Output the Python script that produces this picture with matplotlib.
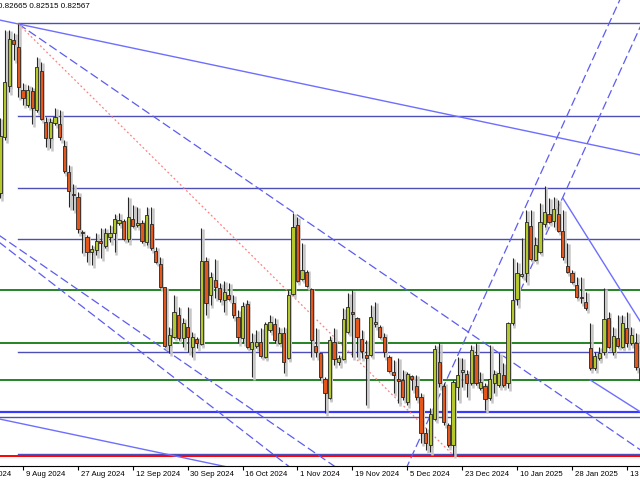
import matplotlib
matplotlib.use("Agg")
import matplotlib.pyplot as plt
import matplotlib.transforms as mtransforms

# daily candles, bar index 0 = 9 Aug 2024
bar_index = list(range(-5, 136))
opens = [0.8457, 0.8513, 0.8564, 0.8610, 0.8603, 0.8560, 0.8545, 0.8559, 0.8540, 0.8579,
         0.8528, 0.8512, 0.8527, 0.8526, 0.8504, 0.8478, 0.8456, 0.8453, 0.8418, 0.8413,
         0.8398, 0.8400, 0.8409, 0.8404, 0.8413, 0.8417, 0.8427, 0.8429, 0.8411, 0.8431,
         0.8425, 0.8427, 0.8408, 0.8426, 0.8399, 0.8386, 0.8363, 0.8305, 0.8313, 0.8335,
         0.8312, 0.8323, 0.8303, 0.8311, 0.8306, 0.8389, 0.8355, 0.8370, 0.8362, 0.8350,
         0.8355, 0.8347, 0.8333, 0.8312, 0.8346, 0.8301, 0.8304, 0.8308, 0.8293, 0.8320,
         0.8326, 0.8307, 0.8317, 0.8292, 0.8356, 0.8425, 0.8371, 0.8378, 0.8361, 0.8304,
         0.8297, 0.8271, 0.8252, 0.8308, 0.8288, 0.8291, 0.8318, 0.8338, 0.8332, 0.8311,
         0.8295, 0.8295, 0.8326, 0.8323, 0.8313, 0.8293, 0.8278, 0.8271, 0.8270, 0.8248,
         0.8274, 0.8264, 0.8253, 0.8217, 0.8205, 0.8231, 0.8288, 0.8264, 0.8225, 0.8205,
         0.8263, 0.8278, 0.8276, 0.8267, 0.8295, 0.8262, 0.8264, 0.8252, 0.8267, 0.8265,
         0.8275, 0.8267, 0.8327, 0.8351, 0.8374, 0.8377, 0.8424, 0.8390, 0.8398, 0.8426,
         0.8436, 0.8429, 0.8436, 0.8419, 0.8384, 0.8377, 0.8365, 0.8353, 0.8348, 0.8302,
         0.8282, 0.8292, 0.8298, 0.8332, 0.8298, 0.8312, 0.8303, 0.8322, 0.8307, 0.8307,
         0.8282]
highs = [0.8532, 0.8620, 0.8620, 0.8617, 0.8626, 0.8567, 0.8565, 0.8563, 0.8593, 0.8588,
         0.8533, 0.8532, 0.8542, 0.8540, 0.8510, 0.8485, 0.8466, 0.8458, 0.8420, 0.8415,
         0.8405, 0.8417, 0.8422, 0.8422, 0.8425, 0.8436, 0.8437, 0.8431, 0.8453, 0.8445,
         0.8443, 0.8430, 0.8443, 0.8443, 0.8403, 0.8393, 0.8363, 0.8323, 0.8355, 0.8343,
         0.8332, 0.8343, 0.8318, 0.8313, 0.8422, 0.8393, 0.8378, 0.8391, 0.8367, 0.8369,
         0.8367, 0.8355, 0.8340, 0.8348, 0.8350, 0.8317, 0.8320, 0.8322, 0.8328, 0.8335,
         0.8332, 0.8323, 0.8323, 0.8360, 0.8437, 0.8433, 0.8407, 0.8380, 0.8362, 0.8322,
         0.8297, 0.8273, 0.8314, 0.8322, 0.8295, 0.8342, 0.8357, 0.8360, 0.8333, 0.8320,
         0.8310, 0.8345, 0.8348, 0.8325, 0.8317, 0.8295, 0.8290, 0.8292, 0.8280, 0.8278,
         0.8275, 0.8275, 0.8257, 0.8222, 0.8242, 0.8305, 0.8307, 0.8267, 0.8227, 0.8270,
         0.8293, 0.8292, 0.8280, 0.8305, 0.8307, 0.8278, 0.8267, 0.8305, 0.8280, 0.8297,
         0.8287, 0.8328, 0.8392, 0.8388, 0.8412, 0.8440, 0.8440, 0.8413, 0.8447, 0.8464,
         0.8452, 0.8453, 0.8450, 0.8440, 0.8407, 0.8380, 0.8373, 0.8373, 0.8358, 0.8327,
         0.8298, 0.8303, 0.8362, 0.8338, 0.8323, 0.8335, 0.8335, 0.8338, 0.8323, 0.8317,
         0.8283]
lows = [0.8452, 0.8510, 0.8558, 0.8590, 0.8553, 0.8545, 0.8543, 0.8526, 0.8538, 0.8530,
        0.8503, 0.8502, 0.8525, 0.8510, 0.8477, 0.8443, 0.8440, 0.8417, 0.8397, 0.8388,
        0.8385, 0.8395, 0.8392, 0.8402, 0.8408, 0.8398, 0.8425, 0.8410, 0.8408, 0.8423,
        0.8423, 0.8407, 0.8405, 0.8400, 0.8387, 0.8362, 0.8303, 0.8297, 0.8312, 0.8310,
        0.8303, 0.8298, 0.8293, 0.8302, 0.8305, 0.8335, 0.8345, 0.8352, 0.8348, 0.8338,
        0.8350, 0.8332, 0.8307, 0.8307, 0.8302, 0.8273, 0.8302, 0.8293, 0.8292, 0.8318,
        0.8307, 0.8306, 0.8277, 0.8291, 0.8355, 0.8368, 0.8370, 0.8363, 0.8293, 0.8293,
        0.8270, 0.8237, 0.8251, 0.8285, 0.8285, 0.8290, 0.8317, 0.8293, 0.8293, 0.8292,
        0.8245, 0.8294, 0.8323, 0.8312, 0.8293, 0.8278, 0.8257, 0.8247, 0.8250, 0.8245,
        0.8260, 0.8250, 0.8207, 0.8200, 0.8198, 0.8230, 0.8263, 0.8225, 0.8203, 0.8195,
        0.8250, 0.8263, 0.8253, 0.8265, 0.8265, 0.8260, 0.8240, 0.8250, 0.8257, 0.8263,
        0.8263, 0.8262, 0.8325, 0.8345, 0.8373, 0.8368, 0.8390, 0.8389, 0.8397, 0.8423,
        0.8427, 0.8423, 0.8418, 0.8390, 0.8377, 0.8367, 0.8352, 0.8347, 0.8340, 0.8280,
        0.8280, 0.8290, 0.8295, 0.8302, 0.8295, 0.8303, 0.8302, 0.8303, 0.8305, 0.8280,
        0.8262]
closes = [0.8514, 0.8568, 0.8611, 0.8606, 0.8563, 0.8552, 0.8560, 0.8542, 0.8583, 0.8531,
          0.8512, 0.8528, 0.8533, 0.8513, 0.8479, 0.8459, 0.8455, 0.8421, 0.8417, 0.8398,
          0.8401, 0.8409, 0.8407, 0.8417, 0.8417, 0.8431, 0.8430, 0.8411, 0.8433, 0.8424,
          0.8427, 0.8409, 0.8435, 0.8402, 0.8388, 0.8363, 0.8304, 0.8315, 0.8338, 0.8312,
          0.8327, 0.8313, 0.8313, 0.8307, 0.8389, 0.8347, 0.8373, 0.8363, 0.8351, 0.8358,
          0.8351, 0.8335, 0.8313, 0.8344, 0.8303, 0.8308, 0.8308, 0.8294, 0.8326, 0.8328,
          0.8310, 0.8317, 0.8288, 0.8355, 0.8423, 0.8369, 0.8380, 0.8364, 0.8310, 0.8298,
          0.8273, 0.8257, 0.8310, 0.8291, 0.8292, 0.8331, 0.8343, 0.8336, 0.8313, 0.8299,
          0.8292, 0.8333, 0.8328, 0.8313, 0.8298, 0.8279, 0.8275, 0.8269, 0.8253, 0.8276,
          0.8271, 0.8253, 0.8217, 0.8207, 0.8236, 0.8301, 0.8267, 0.8228, 0.8205, 0.8268,
          0.8275, 0.8280, 0.8267, 0.8300, 0.8267, 0.8268, 0.8251, 0.8271, 0.8276, 0.8277,
          0.8265, 0.8327, 0.8350, 0.8377, 0.8376, 0.8428, 0.8391, 0.8405, 0.8428, 0.8438,
          0.8428, 0.8441, 0.8419, 0.8393, 0.8378, 0.8368, 0.8353, 0.8352, 0.8342, 0.8282,
          0.8294, 0.8297, 0.8331, 0.8303, 0.8314, 0.8304, 0.8327, 0.8307, 0.8315, 0.8283,
          0.8270]

tick_bars = [-12, 0, 12, 24, 36, 48, 60, 72, 84, 96, 108, 120, 132]
tick_labels = ["24 Jul 2024", "9 Aug 2024", "27 Aug 2024", "12 Sep 2024", "30 Sep 2024",
               "16 Oct 2024", "1 Nov 2024", "19 Nov 2024", "5 Dec 2024", "23 Dec 2024",
               "10 Jan 2025", "28 Jan 2025", "13 Feb 2025"]

# horizontal levels
blue_levels = [0.8627, 0.8534, 0.8462, 0.8411, 0.8298, 0.8196]
green_levels = [0.8360, 0.8307, 0.8270]
support_levels = [0.8238, 0.8233]
red_level = 0.8194

# trend lines as (bar1, price1, bar2, price2)
channel_top = (-1, 0.8626, 135, 0.8495)
channel_bottom = (-1, 0.8227, 135, 0.8096)
fan_dashed = (-1, 0.8626, 135, 0.8200)
fan_dotted = (-1, 0.8626, 94, 0.8195)
left_dashed_a = (-5, 0.8414, 68, 0.8184)
left_dashed_b = (-5, 0.8407, 58, 0.8184)
rise_c = (84, 0.8184, 114.5, 0.8490)
rise_d = (107.5, 0.8347, 121.7, 0.8490)
fall_e = (118, 0.8452, 135, 0.8328)
fall_f = (124, 0.8270, 135, 0.8238)

BULL = "#b4c82c"
BEAR = "#e4561a"
EDGE = "#262626"
SHADOW = "#c6c6c6"
BLUE = "#4e4eb8"
LINE_BLUE = "#6e6eff"
DASH_BLUE = "#5c5cf0"
DASH = (0, (7, 3))
FONT = dict(fontsize=5.6, family="Liberation Sans")

fig = plt.figure(figsize=(6.4, 4.8), dpi=100)
ax = fig.add_axes([0, 14 / 480, 1, 466 / 480])
x_left, x_right = -5.03, 134.87


def ray(seg, **kw):
    k1, p1, k2, p2 = seg
    slope = (p2 - p1) / (k2 - k1)
    ax.plot([k1, x_right + 5], [p1, p1 + slope * (x_right + 5 - k1)], **kw)


def full(seg, **kw):
    k1, p1, k2, p2 = seg
    slope = (p2 - p1) / (k2 - k1)
    xs = [x_left - 5, x_right + 5]
    ax.plot(xs, [p1 + slope * (x - k1) for x in xs], **kw)


# levels
for lv in blue_levels:
    ax.plot([-1, x_right + 5], [lv, lv], color=BLUE, lw=1.0, zorder=1)
for lv in green_levels:
    ax.axhline(lv, color="#006e00", lw=1.2, zorder=1)
ax.axhline(support_levels[0], color="#3a3aff", lw=1.6, zorder=1)
ax.axhline(support_levels[1], color=BLUE, lw=1.0, zorder=1)
ax.axhline(red_level, color="#ff0000", lw=1.4, zorder=1)

# trend lines
full(channel_top, color=LINE_BLUE, lw=1.0, zorder=1)
full(channel_bottom, color=LINE_BLUE, lw=1.0, zorder=1)
ray(fan_dashed, color=DASH_BLUE, lw=0.9, ls=DASH, zorder=1)
ax.plot(fan_dotted[0::2], fan_dotted[1::2], color="#ff8080", lw=0.9,
        ls=(0, (1.5, 2)), zorder=1)
full(left_dashed_a, color=DASH_BLUE, lw=0.9, ls=DASH, zorder=1)
full(left_dashed_b, color=DASH_BLUE, lw=0.9, ls=DASH, zorder=1)
full(rise_c, color=DASH_BLUE, lw=0.9, ls=DASH, zorder=1)
ray(rise_d, color=DASH_BLUE, lw=0.9, ls=DASH, zorder=1)
ray(fall_e, color=LINE_BLUE, lw=1.0, zorder=1)
ray(fall_f, color=LINE_BLUE, lw=1.0, zorder=1)

# candles: grey drop shadow first
dx, dy = 0.42, 0.0003
for k, o, h, l, c in zip(bar_index, opens, highs, lows, closes):
    ax.plot([k + dx, k + dx], [l - dy, h - dy + 0.0002], color=SHADOW, lw=1.8,
            zorder=2, solid_capstyle="butt")
    ax.bar(k + dx, max(abs(c - o), 0.00005), bottom=min(o, c) - dy, width=0.7,
           color=SHADOW, lw=0, zorder=2)
for k, o, h, l, c in zip(bar_index, opens, highs, lows, closes):
    ax.plot([k, k], [l, h], color=EDGE, lw=0.8, zorder=3, solid_capstyle="butt")
    ax.bar(k, max(abs(c - o), 0.00003), bottom=min(o, c), width=0.7,
           color=BULL if c >= o else BEAR, edgecolor=EDGE, lw=0.6, zorder=4)

# axes look
for side in ["top", "left", "right"]:
    ax.spines[side].set_visible(False)
ax.spines["bottom"].set_color("black")
ax.spines["bottom"].set_linewidth(0.8)
ax.set_yticks([])
ax.set_xticks(tick_bars[1:])
ax.set_xticklabels(tick_labels[1:], **FONT)
ax.tick_params(axis="x", length=3, width=0.8, pad=0.5, colors="black")
offset = mtransforms.ScaledTranslation(2 / 72, 0, fig.dpi_scale_trans)
for lab in ax.get_xticklabels():
    lab.set_horizontalalignment("left")
    lab.set_transform(lab.get_transform() + offset)
# limits last, set_xticks would widen them
ax.set_xlim(x_left, x_right)
ax.set_ylim(0.8184, 0.8650)

# first date label sits left of the window, only its tail shows
first = ax.get_xticklabels()[0]
ax.text(tick_bars[0], first.get_position()[1], tick_labels[0], ha="left", va="top",
        transform=first.get_transform(), clip_on=False, **FONT)

fig.text(-0.003, 1 - 7 / 480, "0.82665 0.82515 0.82567", fontsize=5.8,
         family="Liberation Sans", va="center", ha="left")

fig.savefig("out.png", dpi=100, facecolor="white")
